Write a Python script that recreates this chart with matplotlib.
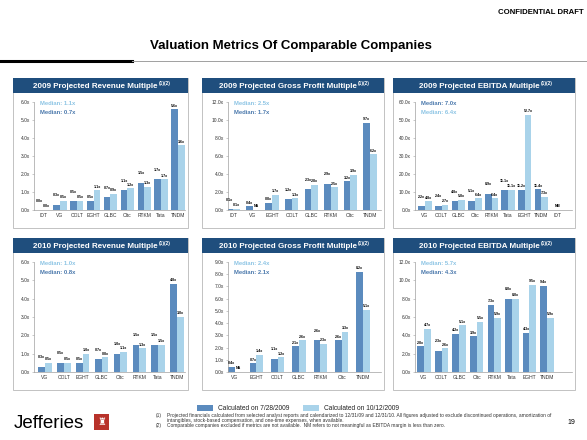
import matplotlib
matplotlib.use('Agg')
import matplotlib.pyplot as plt
import matplotlib.patches as patches
from matplotlib.ticker import FuncFormatter, MultipleLocator

plt.rcParams['font.family'] = ['Liberation Sans', 'DejaVu Sans']

DARK = '#5B8BBE'
LIGHT = '#A9D3EA'
DARK_TXT = '#4A78AC'
LIGHT_TXT = '#8CC4E4'
NAVY = '#1F4E7D'
W, H = 587, 440

# ---- data (None = not available / not meaningful) ----
rev09_names = ['IDT', 'VG', 'COLT', 'EGHT', 'GLBC', 'Cltc', 'RTKM', 'Tata', 'TNDM']
rev09_jul = [0.0, 0.3, 0.5, 0.5, 0.7, 1.1, 1.5, 1.7, 5.6]
rev09_oct = [0.0, 0.5, 0.5, 1.1, 0.9, 1.2, 1.3, 1.7, 3.6]
rev09_med = [(1.1, 'oct'), (0.7, 'jul')]

gp09_names = ['IDT', 'VG', 'EGHT', 'COLT', 'GLBC', 'RTKM', 'Cltc', 'TNDM']
gp09_jul = [0.1, 0.4, 0.8, 1.2, 2.3, 2.9, 3.2, 9.7]
gp09_oct = [0.1, None, 1.7, 1.3, 2.8, 2.5, 3.9, 6.2]
gp09_med = [(2.5, 'oct'), (1.7, 'jul')]

eb09_names = ['VG', 'COLT', 'GLBC', 'Cltc', 'RTKM', 'Tata', 'EGHT', 'TNDM', 'IDT']
eb09_jul = [2.2, 2.4, 4.8, 5.1, 8.9, 11.1, 11.2, 11.4, None]
eb09_oct = [4.8, 2.7, 5.8, 6.4, 6.4, 11.1, 52.7, 7.3, None]
eb09_med = [(7.0, 'jul'), (6.4, 'oct')]

rev10_names = ['VG', 'COLT', 'EGHT', 'GLBC', 'Cltc', 'RTKM', 'Tata', 'TNDM']
rev10_jul = [0.3, 0.5, 0.5, 0.7, 1.0, 1.5, 1.5, 4.8]
rev10_oct = [0.5, 0.5, 1.0, 0.8, 1.1, 1.3, 1.5, 3.0]
rev10_med = [(1.0, 'oct'), (0.8, 'jul')]

gp10_names = ['VG', 'EGHT', 'COLT', 'GLBC', 'RTKM', 'Cltc', 'TNDM']
gp10_jul = [0.4, 0.7, 1.1, 2.1, 2.6, 2.6, 8.2]
gp10_oct = [None, 1.4, 1.2, 2.6, 2.3, 3.3, 5.1]
gp10_med = [(2.4, 'oct'), (2.1, 'jul')]

eb10_names = ['VG', 'COLT', 'GLBC', 'Cltc', 'RTKM', 'Tata', 'EGHT', 'TNDM']
eb10_jul = [2.8, 2.3, 4.2, 3.9, 7.3, 8.0, 4.3, 9.4]
eb10_oct = [4.7, 2.6, 5.1, 5.5, 5.9, 8.0, 9.5, 5.9]
eb10_med = [(5.7, 'oct'), (4.3, 'jul')]

footnotes = [
    ('(1)', 'Projected financials calculated from selected analyst reports and calendarized to 12/31/09 and 12/31/10. '
            'All figures adjusted to exclude discontinued operations, amortization of'),
    ('', 'intangibles, stock-based compensation, and one-time expenses, when available.'),
    ('(2)', 'Comparable companies excluded if metrics are not available.  NM refers to not meaningful as EBITDA margin is less than zero.'),
]

fig = plt.figure(figsize=(W / 100, H / 100), dpi=100)


def fx(x):
    return x / W


def fy(y):
    return 1 - y / H


def px_text(x, y, s, **kw):
    return fig.text(fx(x), fy(y), s, **kw)


def panel(box, row, ax_left, first, last, title, names, jul, oct_, ymax, ystep, meds, missing):
    bx0, bx1 = box
    htop, hbot, atop, abot, bbot = row
    # frame and header
    fig.patches.append(patches.Rectangle((fx(bx0), fy(bbot)), fx(bx1 - bx0), (bbot - htop) / H,
                                         transform=fig.transFigure, fill=False, ec='#B8B8B8', lw=0.6))
    fig.patches.append(patches.Rectangle((fx(bx0), fy(hbot)), fx(bx1 - bx0), (hbot - htop) / H,
                                         transform=fig.transFigure, fc=NAVY, ec='none'))
    cx = (bx0 + bx1) / 2 - 5
    t = px_text(cx, (htop + hbot) / 2 + 0.5, title, color='white', fontsize=5.8,
                fontweight='bold', ha='center', va='center')
    bb = t.get_window_extent(fig.canvas.get_renderer())
    fig.text(bb.x1 / W + fx(1), fy((htop + hbot) / 2 - 2), '(1)(2)', color='white', fontsize=3.4,
             fontweight='bold', ha='left', va='center')

    ax_right = bx1 - 3
    ax = fig.add_axes([fx(ax_left), fy(abot), fx(ax_right - ax_left), (abot - atop) / H])
    n = len(names)
    sp = (last - first) / (n - 1)
    ax.set_xlim(-(first - ax_left) / sp, (ax_right - first) / sp)
    ax.set_ylim(0, ymax)
    bw = 6.7 / sp
    lab_kw = dict(fontsize=2.6, fontweight='bold', ha='center', va='bottom', textcoords='offset points')
    for i in range(n):
        a, b = jul[i], oct_[i]
        if a is None and b is None:
            ax.annotate(missing, (i, 0), xytext=(0, 1.2), **lab_kw)
            continue
        # stagger labels of near-equal bars so they do not collide
        close = a is not None and b is not None and abs(a - b) < 0.05 * ymax
        for val, off, col, lift in ((a, -bw / 2, DARK, 4.2 if close else 0), (b, bw / 2, LIGHT, 0)):
            if val is None:
                ax.annotate(missing, (i + off, 0), xytext=(0, 1.2), **lab_kw)
            else:
                ax.bar(i + off, val, bw, color=col, lw=0)
                ax.annotate('%.1fx' % val, (i + off, val), xytext=(0, 1.2 + lift), **lab_kw)
    ax.set_xticks(range(n))
    ax.set_xticklabels(names)
    ax.yaxis.set_major_locator(MultipleLocator(ystep))
    ax.yaxis.set_major_formatter(FuncFormatter(lambda v, p: '%.1fx' % v))
    for s in ('top', 'right'):
        ax.spines[s].set_visible(False)
    for s in ('left', 'bottom'):
        ax.spines[s].set_color('#A0A0A0')
        ax.spines[s].set_linewidth(0.5)
    ax.tick_params(axis='y', labelsize=3.5, length=1.5, width=0.4, color='#A0A0A0', pad=1.5, labelcolor='#333333')
    ax.tick_params(axis='x', labelsize=3.6, length=0, pad=2.5, labelcolor='#333333')
    ax.patch.set_alpha(0)
    for k, (v, which) in enumerate(meds):
        px_text(ax_left + 6, atop + 1 + 9 * k, 'Median: %.1fx' % v, fontsize=4.2, fontweight='bold',
                color=LIGHT_TXT if which == 'oct' else DARK_TXT, va='center')


cols = [(13, 188), (202, 384), (393, 575)]
rows = [(78, 93, 102, 210, 228), (238, 253, 262, 372, 390)]

panel(cols[0], rows[0], 34, 43, 178, '2009 Projected Revenue Multiple', rev09_names, rev09_jul, rev09_oct, 6, 1, rev09_med, 'NA')
panel(cols[1], rows[0], 228, 233, 370, '2009 Projected Gross Profit Multiple', gp09_names, gp09_jul, gp09_oct, 12, 2, gp09_med, 'NA')
panel(cols[2], rows[0], 415, 425, 558, '2009 Projected EBITDA Multiple', eb09_names, eb09_jul, eb09_oct, 60, 10, eb09_med, 'NM')
panel(cols[0], rows[1], 34, 45, 177, '2010 Projected Revenue Multiple', rev10_names, rev10_jul, rev10_oct, 6, 1, rev10_med, 'NA')
panel(cols[1], rows[1], 228, 235, 363, '2010 Projected Gross Profit Multiple', gp10_names, gp10_jul, gp10_oct, 9, 1, gp10_med, 'NA')
panel(cols[2], rows[1], 415, 424, 547, '2010 Projected EBITDA Multiple', eb10_names, eb10_jul, eb10_oct, 12, 2, eb10_med, 'NM')

# page header
px_text(584, 13, 'CONFIDENTIAL DRAFT', fontsize=5.6, fontweight='bold', ha='right', va='center')
px_text(291, 46, 'Valuation Metrics Of Comparable Companies', fontsize=9.5, fontweight='bold', ha='center', va='center')
fig.add_artist(plt.Line2D([0, fx(132)], [fy(61), fy(61)], color='black', lw=2.2, transform=fig.transFigure))
fig.add_artist(plt.Line2D([fx(132), 1], [fy(61), fy(61)], color='#A0A0A0', lw=0.7, transform=fig.transFigure))

# legend
for x0, col, lab in ((197, DARK, 'Calculated on 7/28/2009'), (303, LIGHT, 'Calculated on 10/12/2009')):
    fig.patches.append(patches.Rectangle((fx(x0), fy(411)), fx(16), 6 / H, transform=fig.transFigure,
                                         fc=col, ec='none'))
    px_text(x0 + 21, 408, lab, fontsize=4.8, va='center', color='#222222')

# footer
px_text(14, 423, 'Jefferies', fontsize=13.5, va='center')
fig.patches.append(patches.Rectangle((fx(94), fy(430)), fx(15), 16 / H, transform=fig.transFigure,
                                     fc='#B8322A', ec='none'))
px_text(101.5, 422, '\u265C', fontsize=7, color='white', ha='center', va='center', family=['DejaVu Sans'])
for k, (num, txt) in enumerate(footnotes):
    y = 415 + 5 * k
    px_text(156, y, num, fontsize=3.5, va='center', color='#333333')
    px_text(167, y, txt, fontsize=3.5, va='center', color='#333333')
px_text(575, 422, '19', fontsize=5, ha='right', va='center')

fig.savefig('out.png', dpi=100)
